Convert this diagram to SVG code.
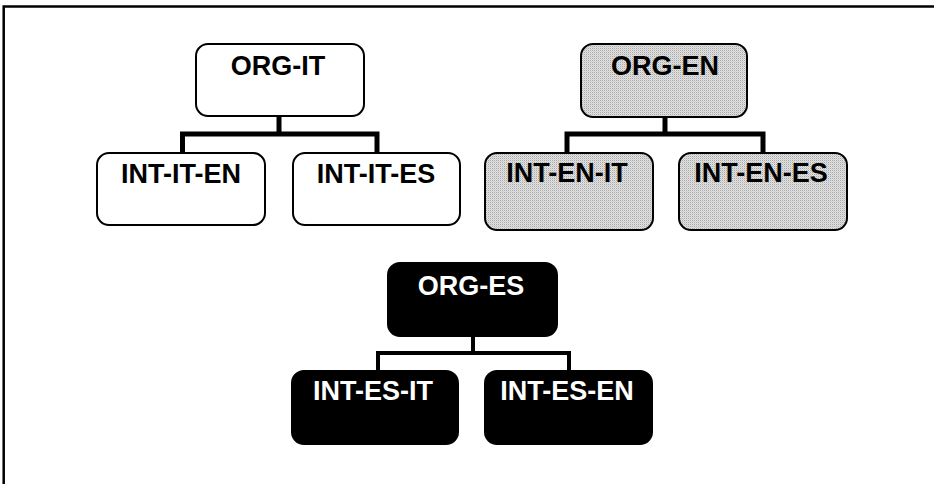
<svg xmlns="http://www.w3.org/2000/svg" width="934" height="484" viewBox="0 0 934 484">
<defs>
<pattern id="dots" width="2" height="2" patternUnits="userSpaceOnUse">
<rect width="2" height="2" fill="#e2e2e2"/>
<rect width="1" height="1" fill="#a8a8a8"/>
<rect x="1" y="1" width="1" height="1" fill="#cfcfcf"/>
</pattern>
</defs>
<style>
.box{stroke:#000;stroke-width:2}
.white{fill:#fff}
.gray{fill:url(#dots)}
.black{fill:#000}
.t{font-family:"Liberation Sans",Arial,sans-serif;font-weight:bold;font-size:27px;text-anchor:middle}
.tw{fill:#fff}
.tb{fill:#000}
.conn{fill:none;stroke:#000;stroke-width:5;stroke-linejoin:miter;stroke-linecap:butt}
.conn2{fill:none;stroke:#000;stroke-width:4;stroke-linejoin:miter}
</style>
<rect width="934" height="484" fill="#fff"/>
<path d="M3.7,484 V6.5 H934" fill="none" stroke="#000" stroke-width="2.5"/>
<g id="connectors">
<path class="conn" d="M279,116 V134 M182.5,158 V134 H377 V158"/>
<path class="conn" d="M665,117 V134 M567,158 V134 H763 V158"/>
<path class="conn2" d="M473,336 V353 M378,376 V353 H569 V376"/>
</g>
<g id="org-it">
<rect class="box white" x="196" y="44" width="168" height="72" rx="12"/>
<text class="t tb" x="278" y="75">ORG-IT</text>
</g>
<g id="int-it-en">
<rect class="box white" x="97" y="153" width="168" height="72" rx="12"/>
<text class="t tb" x="181" y="183">INT-IT-EN</text>
</g>
<g id="int-it-es">
<rect class="box white" x="293" y="153" width="167" height="72" rx="12"/>
<text class="t tb" x="376" y="183">INT-IT-ES</text>
</g>
<g id="org-en">
<rect class="box gray" x="581" y="44" width="166" height="73" rx="12"/>
<text class="t tb" x="665" y="75">ORG-EN</text>
</g>
<g id="int-en-it">
<rect class="box gray" x="485" y="153" width="168" height="77" rx="12"/>
<text class="t tb" x="567" y="182">INT-EN-IT</text>
</g>
<g id="int-en-es">
<rect class="box gray" x="679" y="153" width="168" height="77" rx="12"/>
<text class="t tb" x="761" y="182">INT-EN-ES</text>
</g>
<g id="org-es">
<rect class="box black" x="388" y="263" width="169" height="73" rx="12"/>
<text class="t tw" x="471" y="295">ORG-ES</text>
</g>
<g id="int-es-it">
<rect class="box black" x="292" y="371" width="166" height="73" rx="12"/>
<text class="t tw" x="373" y="400">INT-ES-IT</text>
</g>
<g id="int-es-en">
<rect class="box black" x="485" y="371" width="167" height="73" rx="12"/>
<text class="t tw" x="567" y="400">INT-ES-EN</text>
</g>
</svg>
